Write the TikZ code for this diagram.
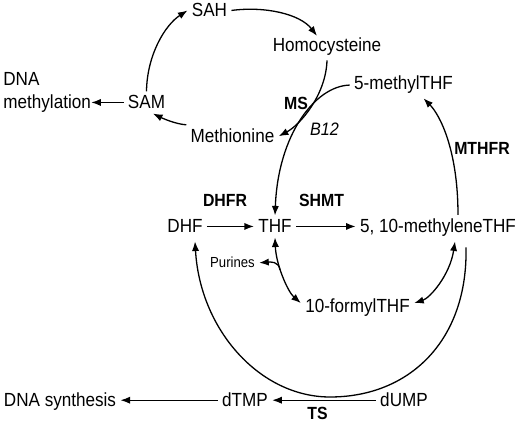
\documentclass[tikz,border=0pt]{standalone}
\usepackage{fontspec}
\setmainfont{Liberation Sans}[FakeStretch=0.9]
\usetikzlibrary{arrows.meta,calc}
\begin{document}
\begin{tikzpicture}[x=0.5pt,y=-0.5pt,
  lbl/.style={font=\fontsize{9.5}{11}\selectfont, inner sep=2pt, anchor=base},
  enz/.style={font=\bfseries\fontsize{8.8}{10}\selectfont, inner sep=1pt, anchor=base},
  conn/.style={line width=0.65pt, -{Latex[length=4.8pt,width=3.6pt]}},
  dconn/.style={line width=0.65pt, {Latex[length=4.8pt,width=3.6pt]}-{Latex[length=4.8pt,width=3.6pt]}}]
\useasboundingbox (0,0) rectangle (520,422);
% nodes
\node[lbl] (sah) at (209.5,17) {SAH};
\node[lbl] (homo) at (327,52) {Homocysteine};
\node[lbl] (mthf) at (403.5,90) {5-methylTHF};
\node[lbl] (sam) at (146.5,109) {SAM};
\node[lbl, anchor=north west, align=left, inner sep=0pt, font=\fontsize{9.5}{11.5}\selectfont] (dnam) at (3,72) {DNA\\methylation};
\node[lbl] (meth) at (232.5,143) {Methionine};
\node[enz] (ms) at (296,110) {MS};
\node[lbl, font=\itshape\fontsize{9}{10}\selectfont] (b12) at (324.5,136) {B12};
\node[enz] (mthfr) at (482,155) {MTHFR};
\node[enz] (dhfr) at (225,207) {DHFR};
\node[enz] (shmt) at (321.5,207) {SHMT};
\node[lbl] (dhf) at (185,233) {DHF};
\node[lbl] (thf) at (275,233) {THF};
\node[lbl] (mlthf) at (438,233) {5, 10-methyleneTHF};
\node[lbl, font=\fontsize{7.3}{8}\selectfont] (pur) at (232.5,268) {Purines};
\node[lbl] (fthf) at (357.5,313) {10-formylTHF};
\node[lbl] (dnas) at (60,407) {DNA synthesis};
\node[lbl] (dtmp) at (245,407) {dTMP};
\node[lbl] (dump) at (404,407) {dUMP};
\node[enz] (ts) at (317.5,420) {TS};
\coordinate (br) at (280,270);
\coordinate (bot) at (330,397);
% connectors
\draw[conn] (sam.north) .. controls (147,55) and (165,25) .. (sah.west);
\draw[conn] (sah.east) .. controls (265,6) and (300,14) .. ($(homo.north)+(-10,2)$);
\draw[conn] (homo.south) .. controls (326,95) and (300,125) .. (meth.east);
\draw[conn] (mthf.west) .. controls (315,86) and (278,135) .. (thf.north);
\draw[conn] (meth.north west) .. controls (175,124) and (162,118) .. (sam.-60);
\draw[conn] (sam.west) -- (sam.west -| dnam.east);
\draw[conn] (dhf.east) -- (thf.west);
\draw[conn] (thf.east) -- (thf.east -| mlthf.west);
\draw[conn] ($(mlthf.north)+(20,0)$) .. controls (458,150) and (440,115) .. ($(mthf.south)+(20,0)$);
\draw[dconn] (thf.south) .. controls (276,265) and (288,292) .. ($(fthf.west)+(0,-5)$);
\draw[conn] (br) .. controls (279,261) and (270,262) .. (pur.east);
\draw[dconn] ($(mlthf.south)+(17,0)$) .. controls (450,275) and (430,298) .. ($(fthf.east)+(0,-5)$);
\draw[conn] ($(mlthf.south)+(28,6)$) .. controls (468,340) and (410,397) .. (bot) .. controls (260,397) and (200,330) .. ($(dhf.south)+(10,4)$);
\draw[conn] (dump.west) -- (dump.west -| dtmp.east);
\draw[conn] (dtmp.west) -- (dtmp.west -| dnas.east);
\end{tikzpicture}
\end{document}
